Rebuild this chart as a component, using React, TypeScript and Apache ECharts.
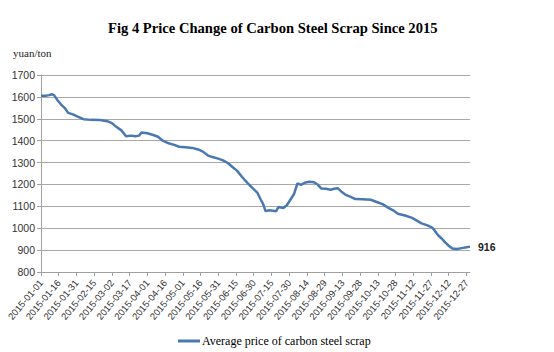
import React, { useEffect, useRef } from "react";
import * as echarts from "echarts";

const dates = [
  "2015-01-01","2015-01-05","2015-01-08","2015-01-10","2015-01-12","2015-01-15","2015-01-18","2015-01-21","2015-01-24","2015-01-28",
  "2015-02-01","2015-02-06","2015-02-12","2015-02-20","2015-02-26","2015-03-02","2015-03-06","2015-03-10","2015-03-14","2015-03-18",
  "2015-03-22","2015-03-25","2015-03-27","2015-04-01","2015-04-06","2015-04-10","2015-04-14","2015-04-19","2015-04-23","2015-04-28",
  "2015-05-03","2015-05-09","2015-05-14","2015-05-18","2015-05-22","2015-05-26","2015-05-31","2015-06-04","2015-06-08","2015-06-12",
  "2015-06-16","2015-06-20","2015-06-25","2015-06-29","2015-07-03","2015-07-06","2015-07-08","2015-07-10","2015-07-13","2015-07-16",
  "2015-07-19","2015-07-21","2015-07-25","2015-07-28","2015-07-31","2015-08-03","2015-08-06","2015-08-09","2015-08-12","2015-08-16",
  "2015-08-20","2015-08-23","2015-08-26","2015-08-30","2015-09-03","2015-09-06","2015-09-09","2015-09-12","2015-09-16","2015-09-20",
  "2015-09-24","2015-09-30","2015-10-07","2015-10-12","2015-10-17","2015-10-22","2015-10-26","2015-10-30","2015-11-05","2015-11-11",
  "2015-11-15","2015-11-19","2015-11-24","2015-11-28","2015-11-30","2015-12-03","2015-12-06","2015-12-09","2015-12-12","2015-12-15",
  "2015-12-19","2015-12-23","2015-12-26","2015-12-30",
];

const prices = [
  1605, 1605, 1608, 1612, 1608, 1585, 1565, 1550, 1527, 1520,
  1510, 1498, 1495, 1494, 1489, 1480, 1462, 1447, 1420, 1423,
  1420, 1423, 1437, 1434, 1426, 1418, 1400, 1388, 1382, 1372,
  1370, 1367, 1360, 1350, 1333, 1325, 1318, 1310, 1298, 1280,
  1262, 1235, 1205, 1183, 1163, 1130, 1110, 1078, 1082, 1080,
  1078, 1097, 1092, 1105, 1130, 1155, 1205, 1198, 1208, 1212,
  1210, 1200, 1182, 1180, 1176, 1180, 1183, 1168, 1152, 1143,
  1133, 1132, 1130, 1120, 1110, 1093, 1082, 1066, 1058, 1047,
  1035, 1022, 1013, 1003, 990, 968, 953, 935, 920, 907,
  905, 909, 912, 916,
];

const yTicks = { min: 800, max: 1700, step: 100 };
const seriesName = "Average price of carbon steel scrap";
const titleText = "Fig 4 Price Change of Carbon Steel Scrap Since 2015";
const unitText = "yuan/ton";

// axis categories: every day from the first date for 364 days
const axisDays: string[] = [];
for (let i = 0; i < 364; i++) {
  axisDays.push(new Date(Date.UTC(2015, 0, 1 + i)).toISOString().slice(0, 10));
}

export default function App() {
  const ref = useRef<HTMLDivElement>(null);
  useEffect(() => {
    if (!ref.current) return;
    const chart = echarts.init(ref.current, null, { renderer: "svg" });
    chart.setOption({
      animation: false,
      backgroundColor: "#ffffff",
      title: {
        text: titleText,
        left: 103,
        top: 15,
        textStyle: {
          fontFamily: "Liberation Serif",
          fontWeight: "bold",
          fontSize: 14.6,
          color: "#000",
        },
      },
      graphic: [
        {
          type: "text",
          left: 13,
          top: 47,
          style: {
            text: unitText,
            font: "11px 'Liberation Serif'",
            fill: "#222",
          },
        },
      ],
      legend: {
        left: 173,
        top: 330,
        icon: "rect",
        itemWidth: 22,
        itemHeight: 3,
        itemGap: 2,
        textStyle: {
          fontFamily: "Liberation Serif",
          fontSize: 12,
          color: "#000",
          padding: [0, 0, 0, -3],
        },
        data: [seriesName],
      },
      grid: { left: 41, right: 84, top: 75, bottom: 80 },
      xAxis: {
        type: "category",
        data: axisDays,
        boundaryGap: false,
        axisLine: { lineStyle: { color: "#a0a0a0", width: 1 } },
        axisTick: { interval: 14, length: 4, lineStyle: { color: "#a0a0a0" } },
        axisLabel: {
          interval: 14,
          rotate: 50,
          fontSize: 9.5,
          fontFamily: "Liberation Sans",
          color: "#333",
          margin: 9,
        },
        splitLine: { show: false },
      },
      yAxis: {
        type: "value",
        min: yTicks.min,
        max: yTicks.max,
        interval: yTicks.step,
        axisLine: { show: true, lineStyle: { color: "#a0a0a0", width: 1 } },
        axisTick: { show: true, length: 4, lineStyle: { color: "#a0a0a0" } },
        axisLabel: {
          fontSize: 10.5,
          fontFamily: "Liberation Sans",
          color: "#333",
          margin: 6,
          formatter: (v: number) => String(v),
        },
        splitLine: { lineStyle: { color: "#a8a8a8", width: 1.2 } },
      },
      series: [
        {
          name: seriesName,
          type: "line",
          data: dates.map((d, i) => [d, prices[i]]),
          showSymbol: false,
          smooth: false,
          lineStyle: { color: "#4a78b0", width: 2.5 },
          itemStyle: { color: "#4a78b0" },
          endLabel: {
            show: true,
            formatter: (p: any) => String(p.value[1]),
            fontSize: 10.5,
            fontWeight: "bold",
            fontFamily: "Liberation Sans",
            color: "#222",
            distance: 8,
          },
        },
      ],
    });
    return () => chart.dispose();
  }, []);
  return (
    <div
      ref={ref}
      style={{ position: "fixed", left: 0, top: 0, width: 554, height: 352 }}
    />
  );
}
